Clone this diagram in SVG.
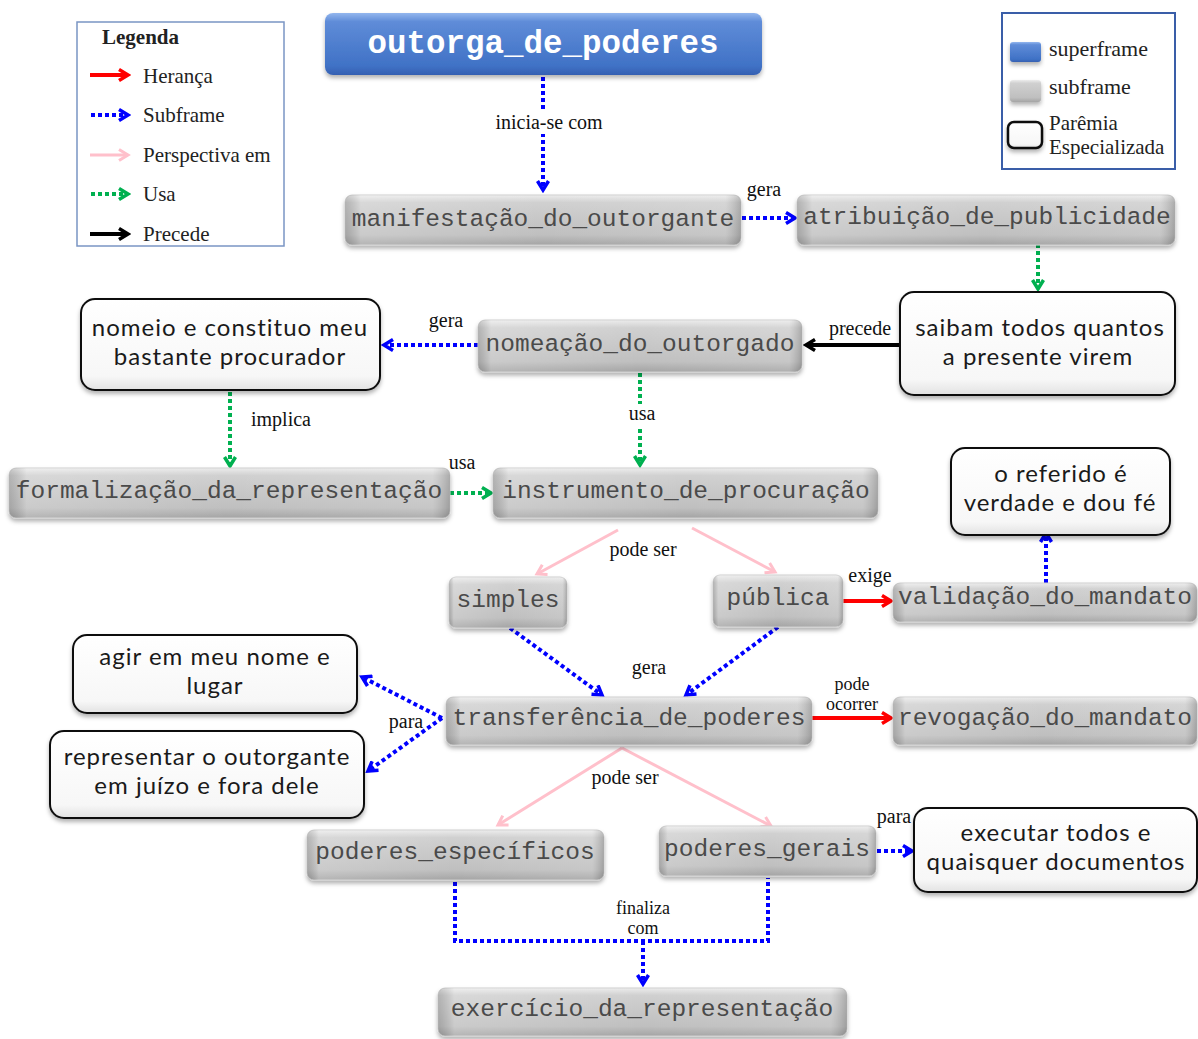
<svg xmlns="http://www.w3.org/2000/svg" width="1198" height="1039" viewBox="0 0 1198 1039">
<style>
.mono{font-family:"Liberation Mono","Courier New",monospace;font-size:24.5px;fill:#4a4a4a;text-anchor:middle}
.title{font-family:"Liberation Mono","Courier New",monospace;font-size:32.5px;font-weight:bold;fill:#ffffff;text-anchor:middle}
.sans{font-family:Lato,"Open Sans",sans-serif;font-size:24px;letter-spacing:1px;fill:#1a1a1a;text-anchor:middle}
.lbl{font-family:"Liberation Serif","Times New Roman",serif;font-size:20px;fill:#111;text-anchor:middle}
.lbl2{font-family:"Liberation Serif","Times New Roman",serif;font-size:18px;fill:#111;text-anchor:middle}
.leg{font-family:"Liberation Serif","Times New Roman",serif;font-size:21px;fill:#222}
.leg2{font-family:"Liberation Serif","Times New Roman",serif;font-size:22px;fill:#222}
.leg3{font-family:"Liberation Serif","Times New Roman",serif;font-size:21px;fill:#222}
.sub{fill:url(#gGray);stroke:#cfcfcf;stroke-width:1;filter:url(#sh)}
.bev{fill:url(#gEdge);stroke:none}
.par{fill:url(#gWhite);stroke:#111;stroke-width:2;filter:url(#sh)}
.blue{fill:none;stroke:#0000ff;stroke-width:4;stroke-dasharray:4 3;marker-end:url(#mB)}
.bluenm{fill:none;stroke:#0000ff;stroke-width:4;stroke-dasharray:4 3}
.green{fill:none;stroke:#00b050;stroke-width:4;stroke-dasharray:4 3;marker-end:url(#mG)}
.red{fill:none;stroke:#ff0000;stroke-width:4;marker-end:url(#mR)}
.blk{fill:none;stroke:#000;stroke-width:4;marker-end:url(#mK)}
.pink{fill:none;stroke:#ffc0cb;stroke-width:3;marker-end:url(#mP)}
</style>
<defs>
<linearGradient id="gGray" x1="0" y1="0" x2="0" y2="1">
<stop offset="0" stop-color="#ececec"/>
<stop offset="0.15" stop-color="#d0d0d0"/>
<stop offset="0.8" stop-color="#bfbfbf"/>
<stop offset="1" stop-color="#a4a4a4"/>
</linearGradient>
<linearGradient id="gEdge" x1="0" y1="0" x2="1" y2="0">
<stop offset="0" stop-color="#000" stop-opacity="0.14"/>
<stop offset="0.04" stop-color="#fff" stop-opacity="0.18"/>
<stop offset="0.5" stop-color="#fff" stop-opacity="0"/>
<stop offset="0.96" stop-color="#fff" stop-opacity="0.12"/>
<stop offset="1" stop-color="#000" stop-opacity="0.18"/>
</linearGradient>
<linearGradient id="gWhite" x1="0" y1="0" x2="0" y2="1">
<stop offset="0" stop-color="#ffffff"/>
<stop offset="0.85" stop-color="#f7f7f7"/>
<stop offset="1" stop-color="#e2e2e2"/>
</linearGradient>
<linearGradient id="gBlue" x1="0" y1="0" x2="0" y2="1">
<stop offset="0" stop-color="#93b6ee"/>
<stop offset="0.14" stop-color="#5f8cd8"/>
<stop offset="0.85" stop-color="#4072c6"/>
<stop offset="1" stop-color="#3560b2"/>
</linearGradient>
<filter id="sh" x="-10%" y="-20%" width="120%" height="160%">
<feDropShadow dx="0" dy="3" stdDeviation="2" flood-color="#000" flood-opacity="0.3"/>
</filter>
<marker id="mB" viewBox="0 0 14 14" refX="11" refY="7" markerWidth="14" markerHeight="14" markerUnits="userSpaceOnUse" orient="auto"><path d="M2,1.5 L11,7 L2,12.5" fill="none" stroke="#0000ff" stroke-width="3.5"/></marker>
<marker id="mG" viewBox="0 0 14 14" refX="11" refY="7" markerWidth="14" markerHeight="14" markerUnits="userSpaceOnUse" orient="auto"><path d="M2,1.5 L11,7 L2,12.5" fill="none" stroke="#00b050" stroke-width="3.5"/></marker>
<marker id="mR" viewBox="0 0 14 14" refX="11" refY="7" markerWidth="14" markerHeight="14" markerUnits="userSpaceOnUse" orient="auto"><path d="M2,1.5 L11,7 L2,12.5" fill="none" stroke="#ff0000" stroke-width="3.5"/></marker>
<marker id="mK" viewBox="0 0 14 14" refX="11" refY="7" markerWidth="14" markerHeight="14" markerUnits="userSpaceOnUse" orient="auto"><path d="M2,1.5 L11,7 L2,12.5" fill="none" stroke="#000" stroke-width="3.5"/></marker>
<marker id="mP" viewBox="0 0 14 14" refX="11" refY="7" markerWidth="14" markerHeight="14" markerUnits="userSpaceOnUse" orient="auto"><path d="M2,1.5 L11,7 L2,12.5" fill="none" stroke="#ffc0cb" stroke-width="3"/></marker>
</defs>
<rect width="1198" height="1039" fill="#fff"/>

<g id="legend-left">
<rect x="77" y="22" width="207" height="224" fill="#fff" stroke="#7a95c4" stroke-width="1.5"/>
<text class="leg" x="102" y="44" font-weight="bold">Legenda</text>
<path class="red" d="M90,75 H128"/>
<path class="blue" d="M91,115 H128"/>
<path class="pink" d="M90,155 H128"/>
<path class="green" d="M91,194 H128"/>
<path class="blk" d="M90,234 H128"/>
<text class="leg" x="143" y="83">Herança</text>
<text class="leg" x="143" y="122">Subframe</text>
<text class="leg" x="143" y="162">Perspectiva em</text>
<text class="leg" x="143" y="201">Usa</text>
<text class="leg" x="143" y="241">Precede</text>
</g>

<g id="legend-right">
<rect x="1002" y="13" width="173" height="156" fill="#fff" stroke="#3a5ea8" stroke-width="2"/>
<rect x="1010" y="42" width="31" height="20" rx="3" fill="url(#gBlue)" filter="url(#sh)"/>
<rect x="1010" y="80" width="31" height="22" rx="3" fill="url(#gGray)" filter="url(#sh)"/>
<rect x="1008" y="122" width="34" height="26" rx="6" fill="url(#gWhite)" stroke="#111" stroke-width="2.5" filter="url(#sh)"/>
<text class="leg2" x="1049" y="56">superframe</text>
<text class="leg2" x="1049" y="94">subframe</text>
<text class="leg3" x="1049" y="130">Parêmia</text>
<text class="leg3" x="1049" y="154">Especializada</text>
</g>

<g id="connectors">
<path class="blue" d="M543,77 V190"/>
<path class="blue" d="M742,218 H795"/>
<path class="green" d="M1038,244 V289"/>
<path class="blk" d="M900,345 H806"/>
<path class="blue" d="M478,345 H384"/>
<path class="green" d="M230,392 V466"/>
<path class="green" d="M640,373 V465"/>
<path class="green" d="M450,493 H491"/>
<path class="pink" d="M618,530 L537,574"/>
<path class="pink" d="M692,528 L775,572"/>
<path class="red" d="M843,601 H891"/>
<path class="blue" d="M1046,583 V533"/>
<path class="blue" d="M510,628 L602,695"/>
<path class="blue" d="M778,627 L686,695"/>
<path class="blue" d="M442,718 L362,677"/>
<path class="blue" d="M442,718 L368,771"/>
<path class="red" d="M812,718 H891"/>
<path class="pink" d="M622,748 L498,825"/>
<path class="pink" d="M622,748 L771,826"/>
<path class="blue" d="M877,851 H912"/>
<path class="bluenm" d="M455,882 V941 H768 V878"/>
<path class="blue" d="M643,941 V984"/>
</g>

<g id="labels">
<rect x="490" y="110" width="120" height="24" fill="#fff"/>
<text class="lbl" x="549" y="129">inicia-se com</text>
<text class="lbl" x="764" y="196">gera</text>
<text class="lbl" x="860" y="335">precede</text>
<text class="lbl" x="446" y="327">gera</text>
<text class="lbl" x="281" y="426">implica</text>
<rect x="626" y="404" width="32" height="22" fill="#fff"/>
<text class="lbl" x="642" y="420">usa</text>
<text class="lbl" x="462" y="469">usa</text>
<text class="lbl" x="643" y="556">pode ser</text>
<text class="lbl" x="870" y="582">exige</text>
<text class="lbl" x="649" y="674">gera</text>
<text class="lbl" x="406" y="728">para</text>
<text class="lbl2" x="852" y="690">pode</text>
<text class="lbl2" x="852" y="710">ocorrer</text>
<text class="lbl" x="625" y="784">pode ser</text>
<text class="lbl" x="894" y="823">para</text>
<text class="lbl2" x="643" y="914">finaliza</text>
<text class="lbl2" x="643" y="934">com</text>
</g>

<g id="n-outorga">
<rect x="325" y="13" width="437" height="62" rx="8" fill="url(#gBlue)" filter="url(#sh)"/>
<text class="title" x="543" y="53">outorga_de_poderes</text>
</g>
<g id="n-manifestacao">
<rect class="sub" x="345" y="195" width="396" height="50" rx="7"/><rect class="bev" x="345" y="195" width="396" height="50" rx="7"/>
<text class="mono" x="543" y="226">manifestação_do_outorgante</text>
</g>
<g id="n-atribuicao">
<rect class="sub" x="797" y="195" width="378" height="50" rx="7"/><rect class="bev" x="797" y="195" width="378" height="50" rx="7"/>
<text class="mono" x="987" y="224">atribuição_de_publicidade</text>
</g>
<g id="n-saibam">
<rect class="par" x="900" y="292" width="275" height="103" rx="14"/>
<text class="sans" x="1040" y="336">saibam todos quantos</text>
<text class="sans" x="1038" y="365">a presente virem</text>
</g>
<g id="n-nomeacao">
<rect class="sub" x="478" y="320" width="324" height="52" rx="7"/><rect class="bev" x="478" y="320" width="324" height="52" rx="7"/>
<text class="mono" x="640" y="351">nomeação_do_outorgado</text>
</g>
<g id="n-nomeio">
<rect class="par" x="81" y="299" width="299" height="91" rx="14"/>
<text class="sans" x="230" y="336">nomeio e constituo meu</text>
<text class="sans" x="230" y="365">bastante procurador</text>
</g>
<g id="n-formalizacao">
<rect class="sub" x="9" y="468" width="441" height="50" rx="7"/><rect class="bev" x="9" y="468" width="441" height="50" rx="7"/>
<text class="mono" x="229" y="498">formalização_da_representação</text>
</g>
<g id="n-instrumento">
<rect class="sub" x="493" y="468" width="385" height="50" rx="7"/><rect class="bev" x="493" y="468" width="385" height="50" rx="7"/>
<text class="mono" x="686" y="498">instrumento_de_procuração</text>
</g>
<g id="n-referido">
<rect class="par" x="951" y="448" width="219" height="87" rx="14"/>
<text class="sans" x="1061" y="482">o referido é</text>
<text class="sans" x="1060" y="511">verdade e dou fé</text>
</g>
<g id="n-simples">
<rect class="sub" x="449" y="577" width="118" height="51" rx="7"/><rect class="bev" x="449" y="577" width="118" height="51" rx="7"/>
<text class="mono" x="508" y="607">simples</text>
</g>
<g id="n-publica">
<rect class="sub" x="713" y="575" width="130" height="52" rx="7"/><rect class="bev" x="713" y="575" width="130" height="52" rx="7"/>
<text class="mono" x="778" y="605">pública</text>
</g>
<g id="n-validacao">
<rect class="sub" x="893" y="583" width="304" height="39" rx="7"/><rect class="bev" x="893" y="583" width="304" height="39" rx="7"/>
<text class="mono" x="1045" y="604">validação_do_mandato</text>
</g>
<g id="n-agir">
<rect class="par" x="73" y="635" width="284" height="78" rx="14"/>
<text class="sans" x="215" y="665">agir em meu nome e</text>
<text class="sans" x="215" y="694">lugar</text>
</g>
<g id="n-representar">
<rect class="par" x="50" y="731" width="314" height="87" rx="14"/>
<text class="sans" x="207" y="765">representar o outorgante</text>
<text class="sans" x="207" y="794">em juízo e fora dele</text>
</g>
<g id="n-transferencia">
<rect class="sub" x="446" y="697" width="366" height="48" rx="7"/><rect class="bev" x="446" y="697" width="366" height="48" rx="7"/>
<text class="mono" x="629" y="725">transferência_de_poderes</text>
</g>
<g id="n-revogacao">
<rect class="sub" x="893" y="697" width="304" height="48" rx="7"/><rect class="bev" x="893" y="697" width="304" height="48" rx="7"/>
<text class="mono" x="1045" y="725">revogação_do_mandato</text>
</g>
<g id="n-especificos">
<rect class="sub" x="307" y="830" width="297" height="50" rx="7"/><rect class="bev" x="307" y="830" width="297" height="50" rx="7"/>
<text class="mono" x="455" y="859">poderes_específicos</text>
</g>
<g id="n-gerais">
<rect class="sub" x="659" y="826" width="217" height="50" rx="7"/><rect class="bev" x="659" y="826" width="217" height="50" rx="7"/>
<text class="mono" x="767" y="856">poderes_gerais</text>
</g>
<g id="n-executar">
<rect class="par" x="914" y="808" width="283" height="84" rx="14"/>
<text class="sans" x="1056" y="841">executar todos e</text>
<text class="sans" x="1056" y="870">quaisquer documentos</text>
</g>
<g id="n-exercicio">
<rect class="sub" x="438" y="988" width="409" height="48" rx="7"/><rect class="bev" x="438" y="988" width="409" height="48" rx="7"/>
<text class="mono" x="642" y="1016">exercício_da_representação</text>
</g>
</svg>
